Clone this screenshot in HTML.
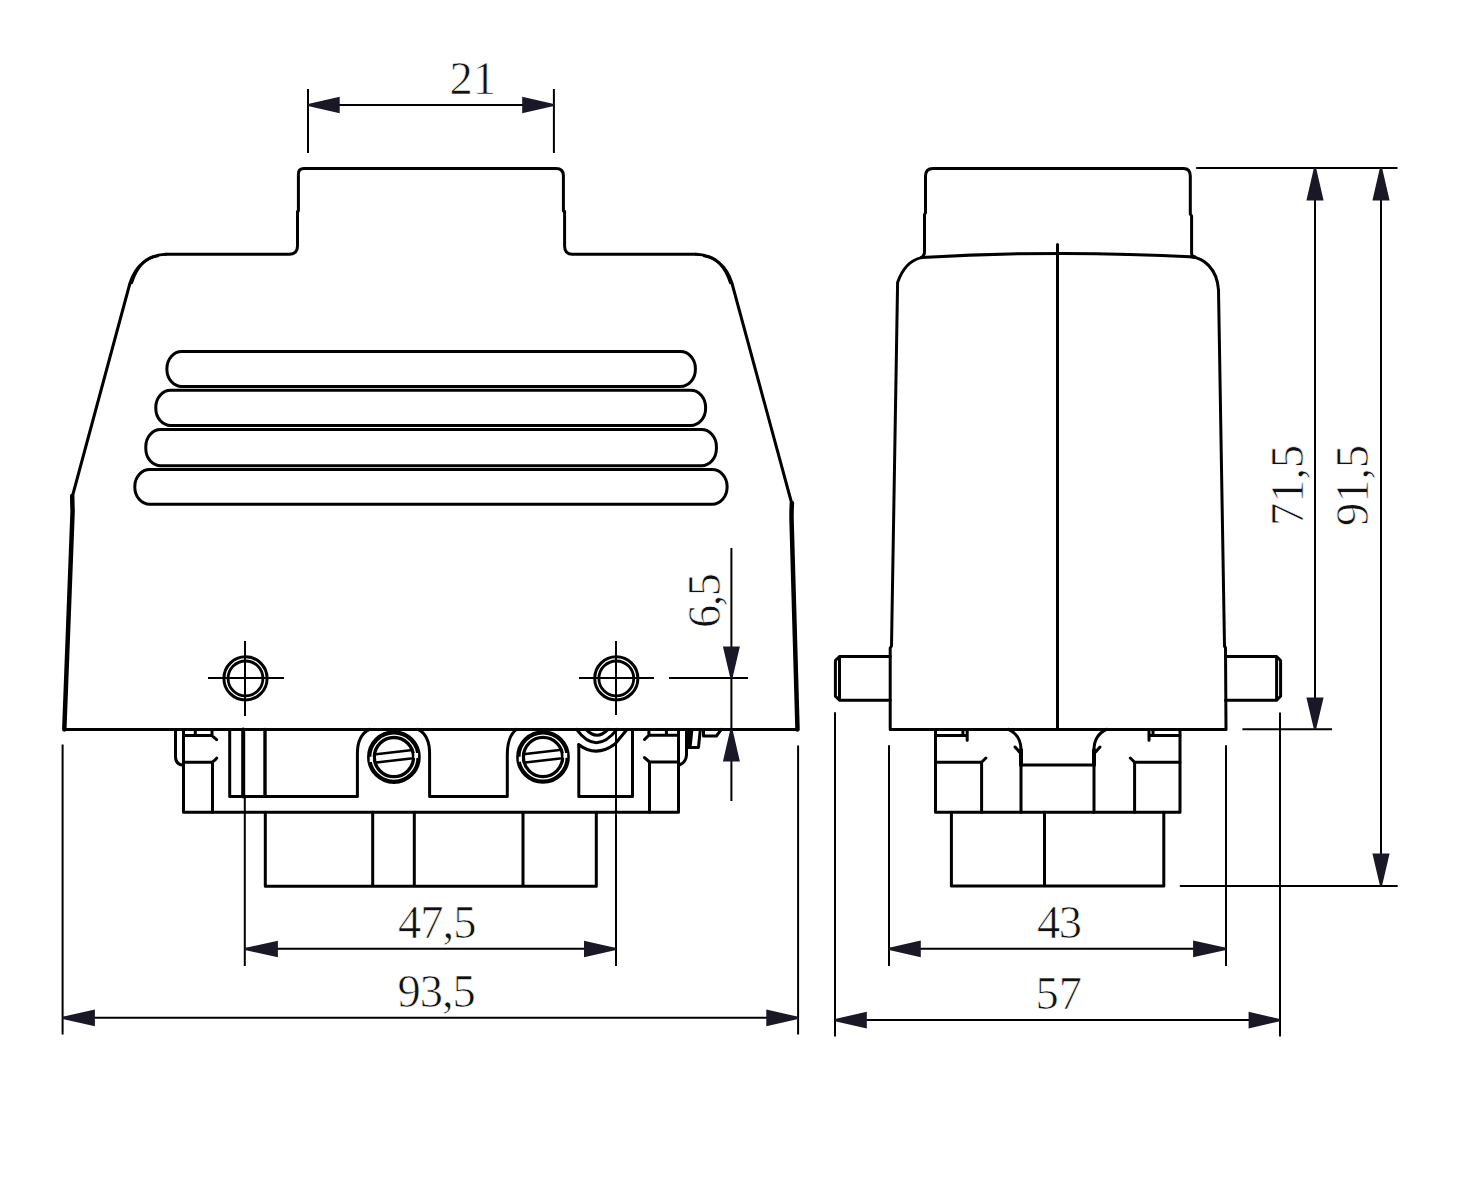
<!DOCTYPE html>
<html><head><meta charset="utf-8"><title>Drawing</title>
<style>
html,body{margin:0;padding:0;background:#fff;}
svg{display:block;}
text{font-family:"Liberation Serif", serif;font-size:46.5px;fill:#111;stroke:#fff;stroke-width:0.7px;paint-order:fill;}
.o{fill:none;stroke:#000;stroke-width:3;stroke-linejoin:round;stroke-linecap:round;}
.t{fill:none;stroke:#000;stroke-width:4;stroke-linejoin:round;stroke-linecap:round;}
.d{fill:none;stroke:#000;stroke-width:2;}
.a{fill:#1a1826;stroke:none;}
</style></head><body>
<svg width="1460" height="1190" viewBox="0 0 1460 1190">
<!-- ===== VIEW 1 ===== -->
<!-- housing outline -->
<path class="o" d="M166,254.2 H289.5 Q297.5,254.2 297.5,246 V211.5 L298.4,211 V174 Q298.4,168.4 304,168.4 H556 Q563.4,168.4 563.4,175.5 V211 L564.6,211.5 V246 Q564.6,254.2 572,254.2 H696"/>
<path class="o" d="M166,254.2 C148,254.5 135.5,266 130,283 L72.2,497"/>
<path class="o" d="M696,254.2 C714,254.5 726.5,266 731.9,283 L791.9,504"/>
<path class="o" style="stroke-width:2.5" d="M158,256 C146,257.5 136.8,267 131.8,283 M704,256 C716,257.5 725.2,267 730.2,283"/>
<path class="t" d="M72.2,496 Q72.3,503 72.6,511 L64.3,729.4" style="stroke-width:4.5"/>
<path class="t" d="M791.9,503 Q791.5,510 791.5,518 L797.5,729.4" style="stroke-width:4.5"/>
<path class="o" d="M64.3,729.4 H797.5"/>
<!-- slots -->
<rect class="o" x="166.9" y="351.5" width="528.5" height="34.9" rx="15" ry="17"/>
<rect class="o" x="155.8" y="390.3" width="549.8" height="35.1" rx="15" ry="17"/>
<rect class="o" x="145.8" y="429.6" width="570.6" height="36.1" rx="15" ry="17"/>
<rect class="o" x="134.8" y="469.6" width="592.3" height="34.7" rx="15" ry="17"/>
<!-- holes -->
<g id="hole1">
<circle class="o" cx="245.5" cy="678.4" r="21.6"/>
<circle cx="245.5" cy="678.4" r="17.4" fill="none" stroke="#000" stroke-width="2.8"/>
<path class="d" d="M208,678 H284 M245,641 V716"/>
</g>
<g>
<circle class="o" cx="616.3" cy="678.4" r="21.6"/>
<circle cx="616.3" cy="678.4" r="17.4" fill="none" stroke="#000" stroke-width="2.8"/>
<path class="d" d="M579,678 H654 M616,641 V715"/>
</g>

<!-- lower housing view 1 -->
<path class="o" d="M175.5,729.4 V756.5 Q175.5,764 182.2,765"/>
<path class="o" d="M183.5,729.4 V812.3 H678.5 V729.4"/>
<path class="o" d="M183.5,735.4 H211.6 L216.7,739.6 M195.3,729.4 V735.4 M212,729.4 V735.4"/>
<path class="o" d="M183.5,762.3 H212 Q215,760.5 216.7,758.1 M212.5,762.3 V812.3"/>
<path class="o" d="M229.7,729.4 V796.4 H357.4 V753.6 Q357.4,735 369.5,729.4"/>
<path class="t" d="M243.2,729.4 V796.4"/>
<path class="t" d="M265,729.4 V796.4" style="stroke-width:3.4"/>
<path class="o" d="M417.9,729.4 Q429.6,735 429.6,753.6 V796.4 H507.3 V755 Q507.3,736 516.6,729.4"/>
<path class="o" d="M578.8,745 V796.5 H632.5 V729.4"/>
<path class="o" d="M578.6,744.5 Q596,758 615,744 L626.6,730"/>
<path class="o" d="M576.6,729.4 Q596,756 617,729.4"/>
<path class="o" d="M586,729.4 Q597,741 608,729.4"/>
<!-- screws -->
<g>
<circle cx="393.9" cy="757.1" r="24.7" fill="none" stroke="#000" stroke-width="4.3"/>
<circle cx="393.9" cy="757.1" r="19.6" fill="none" stroke="#000" stroke-width="3.3"/>
<path fill="#fff" d="M369.7,756.8 H372.9 V761.9 H369.7 Z M414.3,753.0 H418.1 V757.9 H414.3 Z"/>
<path class="o" style="stroke-width:2.5" d="M376.1,754.2 L410.5,750.2 M376.1,762.6 L411,758.6"/>
</g>
<g>
<circle cx="543" cy="757" r="24.7" fill="none" stroke="#000" stroke-width="4.3"/>
<circle cx="543" cy="757" r="19.6" fill="none" stroke="#000" stroke-width="3.3"/>
<path fill="#fff" d="M518.8,756.7 H522.0 V761.8 H518.8 Z M563.4,752.9 H567.2 V757.8 H563.4 Z"/>
<path class="o" style="stroke-width:2.5" d="M525.2,754.1 L559.6,750.1 M525.2,762.5 L560.1,758.5"/>
</g>
<!-- right latch -->
<path class="o" d="M649.5,812.3 V762 H678.5 M649.5,762 L644.5,757.6 M649,735.2 H678.5 M649,735.2 L644.5,739.5 M648.9,729.4 V735.2 M666.4,729.4 V735.2"/>
<path class="o" d="M686.5,729.4 V755 Q686,762 680.1,764.7"/>
<path class="o" d="M688.7,729.4 V747.4 H698.5 L700.3,729.4 M691.8,730.5 L690.3,745 M703.5,729.4 V736 H716.4 L721.4,729.4"/>
<!-- insert -->
<path class="o" d="M265.3,812.3 V886.2 H596.3 V812.3 M372.7,812.3 V886.2 M414.3,812.3 V886.2 M523,812.3 V886.2"/>

<!-- dimensions view 1 -->
<path class="d" d="M308,89 V153 M553.9,89 V153 M308,105 H553.9"/>
<path class="a" d="M308,103.9 L339.7,96.7 V113.3 L308,106.1 Z M553.9,103.9 L522.2,96.7 V113.3 L553.9,106.1 Z"/>
<text x="449.6" y="94">21</text>

<path class="d" d="M669,678 H748 M731.4,548 V801"/>
<path class="a" d="M730.3,678 L722.9,646.4 H739.9 L732.5,678 Z M730.3,729.4 L722.9,761.4 H739.9 L732.5,729.4 Z"/>
<text transform="translate(719.5,628) rotate(-90)" letter-spacing="-1.5">6,5</text>

<path class="d" d="M244.8,796 V966 M616,729.4 V966 M244.8,948.8 H616"/>
<path class="a" d="M244.8,947.9 L277.9,940.7 V957.3 L244.8,950.1 Z M616,947.9 L584,940.7 V957.3 L616,950.1 Z"/>
<text x="398" y="937.5" letter-spacing="-1">47,5</text>

<path class="d" d="M62.6,744.5 V1034.5 M798.1,745.5 V1034.5 M62.6,1017.8 H798.1"/>
<path class="a" d="M62.6,1016.8 L94.9,1009.6 V1026.2 L62.6,1019.0 Z M798.1,1016.8 L766.3,1009.6 V1026.2 L798.1,1019.0 Z"/>
<text x="397.4" y="1006.5" letter-spacing="-1">93,5</text>

<!-- ===== VIEW 2 ===== -->
<path class="o" d="M921.5,257.6 Q924.5,255.5 924.5,252 V214.5 L925.5,213 V176 Q925.5,168.4 933,168.4 H1183.5 Q1190.3,168.4 1190.3,176 V214 L1191.6,216 V253.5 Q1191.8,256.9 1195,257"/>
<path class="o" d="M921.5,257.6 Q1057,249.5 1195,257"/>
<path class="o" d="M921.5,257.6 C910,260 902,270 897.6,282.4 L891.5,646 L890.2,648 V729.4 H1226 L1225.5,648 L1224.5,646 L1218.5,289.8 C1217,268 1203,258 1192,257"/>
<path class="o" d="M1057.5,244.5 V729.4"/>
<!-- pins -->
<path class="o" d="M890.2,656.5 H839.5 L835.4,660.5 V696.2 L839.5,700.2 H890.2 M839.5,656.5 V700.2"/>
<path class="o" d="M1225.5,656.5 H1276.6 L1280.6,660.5 V696.3 L1276.6,700.3 H1225.5 M1276.6,656.5 V700.3"/>
<!-- lower housing view 2 -->
<path class="o" d="M935.5,729.4 V812.3 H1180 V729.4"/>
<path class="o" d="M935.5,735.4 H967.2 M967.2,729.4 V740.2 M962.9,729.4 V735.4"/>
<path class="o" d="M935.5,762.3 H981.6 L985.9,758 M981.6,762.3 V812.3"/>
<path class="o" d="M1008.4,729.4 Q1021,735 1021,750 V812.3 M1015.1,747 L1019.5,752"/>
<path class="t" d="M1021,750 V765"/>
<path class="o" d="M1021,765.1 H1094"/>
<path class="o" d="M1106.6,729.4 Q1094,735 1094,750 V812.3 M1100,747 L1095.5,752"/>
<path class="t" d="M1094,750 V765"/>
<path class="o" d="M1180,735.4 H1149 M1149,729.4 V740.2 M1153,729.4 V735.4"/>
<path class="o" d="M1180,762.3 H1134.6 L1130.3,758 M1134.6,762.3 V812.3"/>
<path class="o" d="M951.4,812.3 V886 H1163.8 V812.3 M1044.5,812.3 V886"/>

<!-- dimensions view 2 -->
<path class="d" d="M889,745.2 V966 M1226,745.2 V966 M889,948.8 H1226"/>
<path class="a" d="M889,947.8 L920.8,940.6 V957.1999999999999 L889,950.0 Z M1226,947.8 L1193.1,940.6 V957.1999999999999 L1226,950.0 Z"/>
<text x="1037" y="937.5" letter-spacing="-1.5">43</text>

<path class="d" d="M835,712.2 V1036.6 M1280,712.5 V1036.6 M835,1020.1 H1280"/>
<path class="a" d="M835,1019.0 L866.8,1011.8000000000001 V1028.4 L835,1021.2 Z M1280,1019.0 L1248.6,1011.8000000000001 V1028.4 L1280,1021.2 Z"/>
<text x="1035.6" y="1008.5">57</text>

<path class="d" d="M1196.2,168 H1397.5 M1242.4,729.2 H1332 M1179.8,886 H1397.7 M1315,168 V729.2 M1381,168 V885.5"/>
<path class="a" d="M1313.9,168 L1306.4,200.4 H1323.6 L1316.1,168 Z M1313.9,729.2 L1306.4,697.6 H1323.6 L1316.1,729.2 Z M1379.9,168 L1372.4,200.4 H1389.6 L1382.1,168 Z M1379.9,885.5 L1372.4,853.4 H1389.6 L1382.1,885.5 Z"/>
<text transform="translate(1303,526) rotate(-90)">71,5</text>
<text transform="translate(1368,526) rotate(-90)">91,5</text>
</svg>
</body></html>
